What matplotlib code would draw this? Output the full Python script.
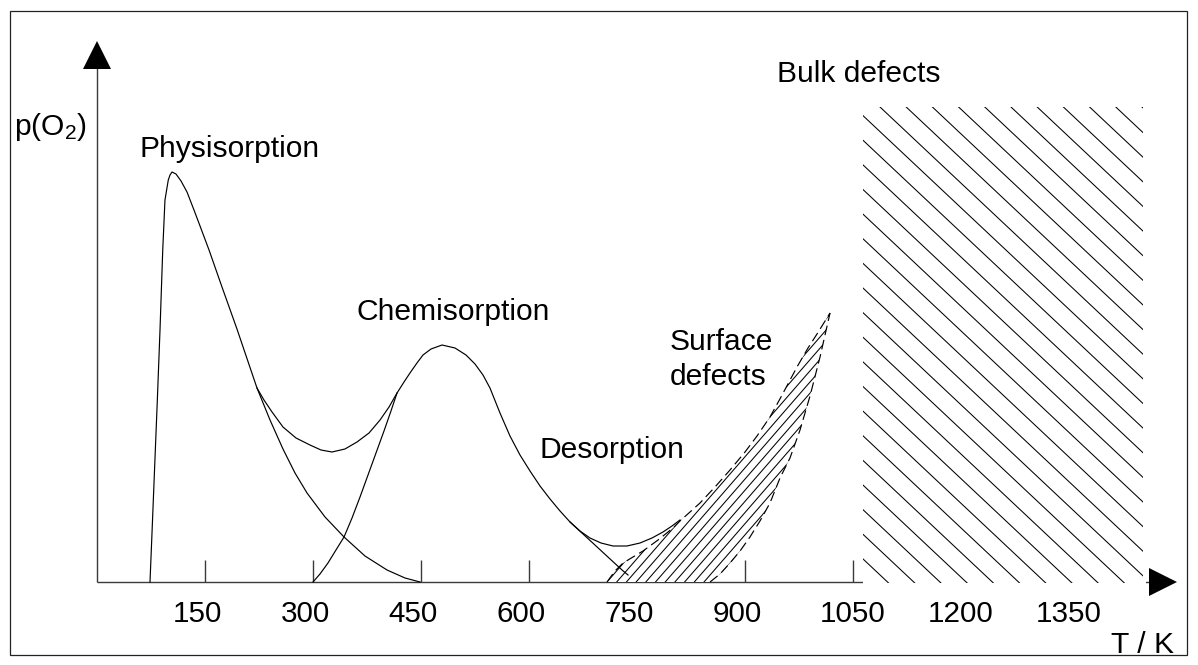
import numpy as np
import matplotlib
matplotlib.use("Agg")
import matplotlib.pyplot as plt
from matplotlib.patches import Polygon, Rectangle

plt.rcParams['font.family'] = ['Liberation Sans', 'DejaVu Sans']
plt.rcParams['mathtext.fontset'] = 'custom'
plt.rcParams['mathtext.rm'] = 'Liberation Sans'
plt.rcParams['mathtext.it'] = 'Liberation Sans'
plt.rcParams['lines.scale_dashes'] = False

# ---------------- data (T in K, p in arbitrary units) ----------------
phys_T = [73.6, 76.0, 79.9, 83.8, 87.5, 91.3, 94.4, 99.0, 101.4, 104.2, 109.7, 116.7,
          125.0, 134.7, 143.1, 155.6, 173.6, 194.4, 222.2, 240.3, 258.3, 275.0, 291.7,
          316.7, 343.1, 372.2, 402.8, 427.8, 448.6]
phys_p = [0.0, 8.4, 22.4, 36.4, 50.4, 66.4, 76.4, 80.4, 81.4, 82.0, 81.6, 80.2,
          78.0, 74.4, 71.2, 66.4, 59.0, 50.6, 38.8, 32.4, 26.6, 21.8, 17.8,
          13.0, 9.0, 5.2, 2.4, 0.8, 0.0]

chem_T = [300.0, 309.7, 320.8, 331.9, 343.1, 354.2, 365.3, 376.4, 387.5, 398.6, 408.3,
          416.7, 426.4, 434.7, 444.4, 452.8, 463.9, 479.2, 497.2, 512.5, 525.0, 536.1,
          545.8, 559.7, 573.6, 587.5, 601.4, 615.3, 629.2, 643.1, 657.0, 675.0, 693.1,
          711.1, 729.2, 737.5]
chem_p = [0.0, 1.6, 3.8, 6.4, 9.0, 12.8, 17.0, 21.4, 25.8, 30.2, 34.2,
          37.8, 40.0, 41.8, 43.8, 45.4, 46.6, 47.4, 46.8, 45.4, 43.6, 41.4,
          38.8, 33.8, 29.2, 25.4, 22.2, 19.2, 16.6, 14.2, 12.0, 9.6, 7.2,
          4.8, 2.4, 1.4]

sum_left_T = [222.2, 231.9, 243.1, 258.3, 276.4, 295.8, 311.1, 326.4, 344.4, 361.1,
              377.8, 393.1, 405.6, 416.7]
sum_left_p = [38.8, 36.4, 34.0, 31.0, 28.8, 27.4, 26.4, 26.0, 26.6, 28.0,
              29.8, 32.4, 35.0, 37.8]

sum_right_T = [657.0, 670.8, 684.7, 700.0, 716.7, 736.1, 754.2, 770.8, 786.1, 798.6, 809.7]
sum_right_p = [12.0, 10.2, 8.8, 7.8, 7.2, 7.2, 7.8, 8.8, 10.0, 11.2, 12.4]

surf_up_T = [708.3, 719.4, 730.6, 744.4, 758.3, 779.2, 800.0, 809.7, 837.5, 858.3, 879.2,
             900.0, 916.7, 934.7, 950.0, 972.2, 987.5, 1000.0, 1018.1]
surf_up_p = [0.0, 2.2, 3.8, 5.0, 6.2, 8.4, 10.8, 12.2, 15.8, 19.0, 22.4,
             26.0, 29.2, 33.0, 37.0, 43.0, 46.8, 49.6, 53.8]

surf_lo_T = [851.4, 865.3, 879.2, 893.1, 906.9, 920.8, 934.7, 948.6, 962.5, 976.4,
             990.3, 1004.2, 1018.1]
surf_lo_p = [0.0, 1.6, 3.8, 6.2, 9.0, 12.2, 15.8, 20.8, 24.8, 30.4,
             37.2, 45.0, 53.8]

bulk_T = [1064.0, 1452.8]      # extent of bulk-defect band
bulk_p_top = 95.0

tick_T = [150, 300, 450, 600, 750, 900, 1050]
tick_labels = ['150', '300', '450', '600', '750', '900', '1050', '1200', '1350']
tick_label_T = [150, 300, 450, 600, 750, 900, 1050, 1200, 1350]

# ---------------- geometry ----------------
W, H, DPI = 1198, 665, 100
X0, Y0 = 97, 582          # pixel of origin
KPX, PPX = 0.72, 5.0       # pixels per K, pixels per p-unit

fig = plt.figure(figsize=(W / DPI, H / DPI), dpi=DPI)
ax = fig.add_axes([0, 0, 1, 1])
ax.set_xlim(-X0 / KPX, (W - X0) / KPX)
ax.set_ylim(-(H - Y0) / PPX, Y0 / PPX)
ax.axis('off')

def px2T(x):
    return (np.asarray(x, float) - X0) / KPX

def up2p(y):
    return np.asarray(y, float) / PPX

LW = 0.85
AX_C = '#3a3a3a'

# frame around figure
fig.add_artist(Rectangle((10 / W, 10 / H), (W - 21) / W, (H - 21) / H,
                         transform=fig.transFigure, fill=False, lw=0.9,
                         edgecolor='#222222'))

# axes lines with arrows
x_end = px2T(1149)
y_end = up2p(Y0 - 68)
ax.plot([0, x_end], [0, 0], color=AX_C, lw=1.0, zorder=2, solid_capstyle='butt')
ax.plot([0, 0], [0, y_end], color=AX_C, lw=1.0, zorder=2, solid_capstyle='butt')
ax.plot([px2T(1163)], [0], marker='>', ms=19.5, color='black', mew=0, zorder=5)
ax.plot([0], [up2p(Y0 - 55)], marker='^', ms=19.5, color='black', mew=0, zorder=5)

# ticks
ax.vlines(tick_T, 0, up2p(22), color=AX_C, lw=1.0, zorder=2)
for t, lab in zip(tick_label_T, tick_labels):
    shift = -8 if len(lab) == 3 else 0
    ax.text(t + shift / KPX, up2p(Y0 - 621.5), lab, ha='center', va='baseline',
            fontsize=21.3)

# curves
ax.plot(phys_T, phys_p, color='black', lw=LW, zorder=4)
ax.plot(chem_T, chem_p, color='black', lw=LW, zorder=4)
ax.plot(sum_left_T, sum_left_p, color='black', lw=LW, zorder=4)
ax.plot(sum_right_T, sum_right_p, color='black', lw=LW, zorder=4)

# surface defects band
poly_T = list(surf_up_T) + list(surf_lo_T[::-1])
poly_p = list(surf_up_p) + list(surf_lo_p[::-1])
surf_patch = Polygon(np.column_stack([poly_T, poly_p]), closed=True,
                     facecolor='white', edgecolor='none', zorder=3)
ax.add_patch(surf_patch)

def hatch_lines(clip, x_lo, x_hi, slope, y_ref, c0, step, lw):
    xs = np.array([x_lo, x_hi], float)
    for c in np.arange(c0 - 60 * step, c0 + 60 * step, step):
        ys = slope * (xs - c) + y_ref
        ln, = ax.plot(px2T(xs), up2p(ys), color='black', lw=lw, zorder=3.5)
        ln.set_clip_path(clip)

hatch_lines(surf_patch, 560, 900, 1.15, 0.0, 616.7, 9.7, 0.75)
ax.plot(surf_up_T, surf_up_p, color='black', lw=LW, ls='--', dashes=(7, 3.5), zorder=4)
ax.plot(surf_lo_T, surf_lo_p, color='black', lw=LW, ls='--', dashes=(7, 3.5), zorder=4)

# bulk defects band
bulk_cover = Rectangle((bulk_T[0], -0.5), px2T(1146) - bulk_T[0], bulk_p_top + 0.5,
                       facecolor='white', edgecolor='none', zorder=3)
ax.add_patch(bulk_cover)
bulk_clip = Rectangle((bulk_T[0], -0.2), bulk_T[1] - bulk_T[0], bulk_p_top + 0.2,
                      facecolor='none', edgecolor='none', transform=ax.transData)
hatch_lines(bulk_clip, 820, 1200, -0.94, bulk_p_top * PPX, 880.0, 26.2, 0.75)

# labels
FS = 21.6
ax.text(px2T(14), up2p(Y0 - 135), r'p(O$_\mathrm{2}$)', fontsize=FS, ha='left', va='baseline')
ax.text(px2T(140), up2p(Y0 - 157), 'Physisorption', fontsize=FS, ha='left', va='baseline')
ax.text(px2T(357), up2p(Y0 - 320), 'Chemisorption', fontsize=FS, ha='left', va='baseline')
ax.text(px2T(540), up2p(Y0 - 458), 'Desorption', fontsize=FS, ha='left', va='baseline')
ax.text(px2T(670), up2p(Y0 - 350), 'Surface', fontsize=FS, ha='left', va='baseline')
ax.text(px2T(670), up2p(Y0 - 385), 'defects', fontsize=FS, ha='left', va='baseline')
ax.text(px2T(940), up2p(Y0 - 82), 'Bulk defects', fontsize=FS, ha='right', va='baseline')
ax.text(px2T(1174), up2p(Y0 - 653), 'T / K', fontsize=FS, ha='right', va='baseline')

fig.savefig('out.png', dpi=DPI)
